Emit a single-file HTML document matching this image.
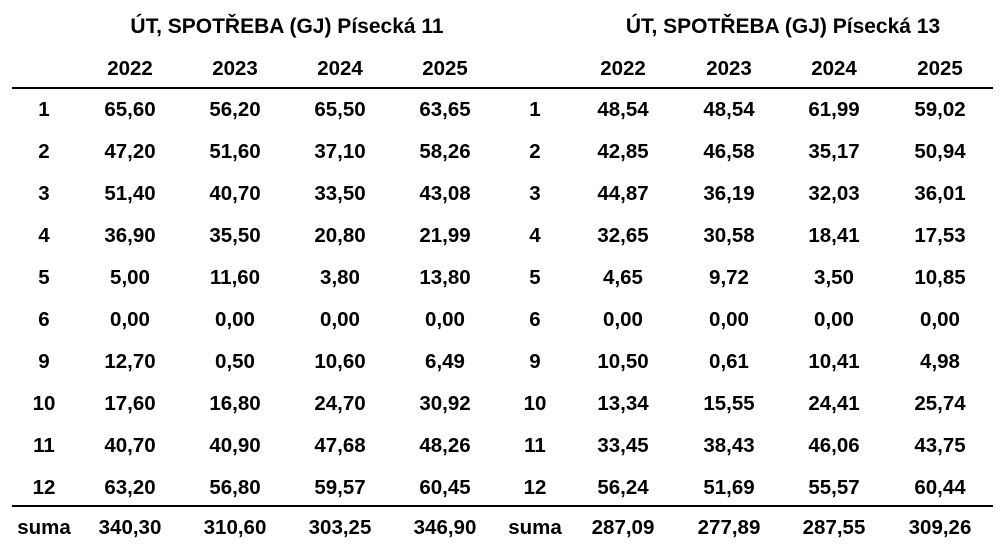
<!DOCTYPE html>
<html><head><meta charset="utf-8"><style>
html,body{margin:0;padding:0;background:#fff;}
svg text{font-family:"Liberation Sans",Arial,sans-serif;font-weight:bold;font-size:20.5px;fill:#000;text-anchor:middle;}
svg text.t{font-size:21px;}
</style></head><body>
<svg width="1008" height="546" xmlns="http://www.w3.org/2000/svg">
<text class="t" x="287" y="33">ÚT, SPOTŘEBA (GJ) Písecká 11</text>
<text class="t" x="783" y="33">ÚT, SPOTŘEBA (GJ) Písecká 13</text>
<g id="hdr">
<text x="130" y="75">2022</text><text x="235" y="75">2023</text><text x="340" y="75">2024</text><text x="445" y="75">2025</text>
<text x="623" y="75">2022</text><text x="729" y="75">2023</text><text x="834" y="75">2024</text><text x="940" y="75">2025</text>
</g>
<rect x="12" y="87" width="981" height="2" fill="#000"/>
<rect x="12" y="505" width="981" height="2" fill="#000"/>
<g>
<text x="44" y="116">1</text><text x="130" y="116">65,60</text><text x="235" y="116">56,20</text><text x="340" y="116">65,50</text><text x="445" y="116">63,65</text>
<text x="535" y="116">1</text><text x="623" y="116">48,54</text><text x="729" y="116">48,54</text><text x="834" y="116">61,99</text><text x="940" y="116">59,02</text>

<text x="44" y="158">2</text><text x="130" y="158">47,20</text><text x="235" y="158">51,60</text><text x="340" y="158">37,10</text><text x="445" y="158">58,26</text>
<text x="535" y="158">2</text><text x="623" y="158">42,85</text><text x="729" y="158">46,58</text><text x="834" y="158">35,17</text><text x="940" y="158">50,94</text>

<text x="44" y="200">3</text><text x="130" y="200">51,40</text><text x="235" y="200">40,70</text><text x="340" y="200">33,50</text><text x="445" y="200">43,08</text>
<text x="535" y="200">3</text><text x="623" y="200">44,87</text><text x="729" y="200">36,19</text><text x="834" y="200">32,03</text><text x="940" y="200">36,01</text>

<text x="44" y="242">4</text><text x="130" y="242">36,90</text><text x="235" y="242">35,50</text><text x="340" y="242">20,80</text><text x="445" y="242">21,99</text>
<text x="535" y="242">4</text><text x="623" y="242">32,65</text><text x="729" y="242">30,58</text><text x="834" y="242">18,41</text><text x="940" y="242">17,53</text>

<text x="44" y="284">5</text><text x="130" y="284">5,00</text><text x="235" y="284">11,60</text><text x="340" y="284">3,80</text><text x="445" y="284">13,80</text>
<text x="535" y="284">5</text><text x="623" y="284">4,65</text><text x="729" y="284">9,72</text><text x="834" y="284">3,50</text><text x="940" y="284">10,85</text>

<text x="44" y="326">6</text><text x="130" y="326">0,00</text><text x="235" y="326">0,00</text><text x="340" y="326">0,00</text><text x="445" y="326">0,00</text>
<text x="535" y="326">6</text><text x="623" y="326">0,00</text><text x="729" y="326">0,00</text><text x="834" y="326">0,00</text><text x="940" y="326">0,00</text>

<text x="44" y="368">9</text><text x="130" y="368">12,70</text><text x="235" y="368">0,50</text><text x="340" y="368">10,60</text><text x="445" y="368">6,49</text>
<text x="535" y="368">9</text><text x="623" y="368">10,50</text><text x="729" y="368">0,61</text><text x="834" y="368">10,41</text><text x="940" y="368">4,98</text>

<text x="44" y="410">10</text><text x="130" y="410">17,60</text><text x="235" y="410">16,80</text><text x="340" y="410">24,70</text><text x="445" y="410">30,92</text>
<text x="535" y="410">10</text><text x="623" y="410">13,34</text><text x="729" y="410">15,55</text><text x="834" y="410">24,41</text><text x="940" y="410">25,74</text>

<text x="44" y="452">11</text><text x="130" y="452">40,70</text><text x="235" y="452">40,90</text><text x="340" y="452">47,68</text><text x="445" y="452">48,26</text>
<text x="535" y="452">11</text><text x="623" y="452">33,45</text><text x="729" y="452">38,43</text><text x="834" y="452">46,06</text><text x="940" y="452">43,75</text>

<text x="44" y="494">12</text><text x="130" y="494">63,20</text><text x="235" y="494">56,80</text><text x="340" y="494">59,57</text><text x="445" y="494">60,45</text>
<text x="535" y="494">12</text><text x="623" y="494">56,24</text><text x="729" y="494">51,69</text><text x="834" y="494">55,57</text><text x="940" y="494">60,44</text>

<text x="44" y="534">suma</text><text x="130" y="534">340,30</text><text x="235" y="534">310,60</text><text x="340" y="534">303,25</text><text x="445" y="534">346,90</text>
<text x="535" y="534">suma</text><text x="623" y="534">287,09</text><text x="729" y="534">277,89</text><text x="834" y="534">287,55</text><text x="940" y="534">309,26</text>
</g>
</svg>
</body></html>
